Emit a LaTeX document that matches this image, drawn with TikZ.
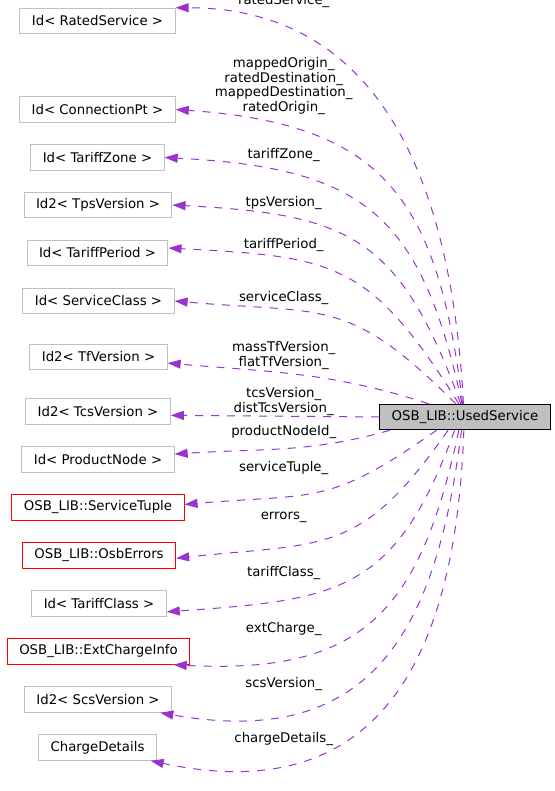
\documentclass[tikz,border=0pt]{standalone}
\usepackage{fontspec}
\setmainfont{DejaVu Sans}
\usetikzlibrary{arrows.meta}

\definecolor{boxgray}{HTML}{BFBFBF}
\definecolor{relpurple}{HTML}{9A32CD}
\newcommand{\dxfont}{\fontsize{13.3bp}{14.7bp}\selectfont}

\tikzset{
  cls/.style={draw=boxgray, fill=white, line width=1bp, inner xsep=12bp, inner ysep=0pt, minimum height=25.5bp, font=\dxfont},
  clsred/.style={cls, draw=red},
  clsmain/.style={cls, draw=black, fill=boxgray},
  rel/.style={draw=relpurple, line width=1bp, dash pattern=on 8bp off 8bp, looseness=1.3, -{Triangle[length=13bp,width=9bp]}},
  rellbl/.style={font=\dxfont, align=center, inner sep=0pt}
}

\begin{document}
\begin{tikzpicture}[x=1bp, y=1bp]
  \useasboundingbox (0,0) rectangle (555,-791);
  % member classes
  \node[cls] (rs) at (97.5,-21) {Id< RatedService >};
  \node[cls] (cp) at (97.5,-109.5) {Id< ConnectionPt >};
  \node[cls] (tz) at (97.5,-157.5) {Id< TariffZone >};
  \node[cls] (tps) at (98,-205) {Id2< TpsVersion >};
  \node[cls] (tp) at (97.5,-253) {Id< TariffPeriod >};
  \node[cls] (sc) at (98.5,-301) {Id< ServiceClass >};
  \node[cls] (tf) at (98.5,-357) {Id2< TfVersion >};
  \node[cls] (tcs) at (98,-411.5) {Id2< TcsVersion >};
  \node[cls] (pn) at (98,-459.5) {Id< ProductNode >};
  \node[clsred] (st) at (98,-507.5) {OSB\_LIB::ServiceTuple};
  \node[clsred] (oe) at (99,-555.5) {OSB\_LIB::OsbErrors};
  \node[cls] (tc) at (99,-603.5) {Id< TariffClass >};
  \node[clsred] (ec) at (98.5,-651.5) {OSB\_LIB::ExtChargeInfo};
  \node[cls] (scs) at (98,-699.5) {Id2< ScsVersion >};
  \node[cls] (cd) at (97.5,-747.5) {ChargeDetails};
  % the class itself
  \node[clsmain] (used) at (465,-417) {OSB\_LIB::UsedService};

  % relations
  \draw[rel] (used.97) to[out=93, in=0, looseness=1.1] (rs.north east);
  \draw[rel] (used.100) to[out=97, in=-4] (cp.east);
  \draw[rel] (used.103) to[out=102, in=-3] (tz.east);
  \draw[rel] (used.108) to[out=110, in=-3] (tps.east);
  \draw[rel] (used.115) to[out=122, in=-3] (tp.4);
  \draw[rel] (used.125) to[out=135, in=-5] (sc.east);
  \draw[rel] (used.160) to[out=162, in=-5, looseness=1] (tf.-5);
  \draw[rel] (used.west) -- (tcs.-3);
  \draw[rel] (used.190) to[out=196, in=4, looseness=1] (pn.4);
  \draw[rel] (used.205) to[out=215, in=5] (st.2);
  \draw[rel] (used.218) to[out=235, in=6] (oe.-2);
  \draw[rel] (used.232) to[out=250, in=4] (tc.-7);
  \draw[rel] (used.245) to[out=258, in=-3] (ec.-10);
  \draw[rel] (used.255) to[out=263, in=-10] (scs.-12);
  \draw[rel] (used.265) to[out=268, in=-12] (cd.-14);

  % member names
  \node[rellbl] (lrs) at (283.7,-1.5) {ratedService\_};
  \node[rellbl] (lcp) at (283.7,-86) {mappedOrigin\_\\ratedDestination\_\\mappedDestination\_\\ratedOrigin\_};
  \node[rellbl] (ltz) at (283.7,-155.5) {tariffZone\_};
  \node[rellbl] (ltps) at (283.7,-203.5) {tpsVersion\_};
  \node[rellbl] (ltp) at (283.7,-245.5) {tariffPeriod\_};
  \node[rellbl] (lsc) at (283.7,-298.5) {serviceClass\_};
  \node[rellbl] (ltf) at (283.7,-355.5) {massTfVersion\_\\flatTfVersion\_};
  \node[rellbl] (ltcs) at (283.7,-401.5) {tcsVersion\_\\distTcsVersion\_};
  \node[rellbl] (lpn) at (283.7,-432.5) {productNodeId\_};
  \node[rellbl] (lst) at (283.7,-468.5) {serviceTuple\_};
  \node[rellbl] (loe) at (283.7,-517.5) {errors\_};
  \node[rellbl] (ltc) at (283.7,-573.5) {tariffClass\_};
  \node[rellbl] (lec) at (283.7,-629.5) {extCharge\_};
  \node[rellbl] (lscs) at (283.7,-684.5) {scsVersion\_};
  \node[rellbl] (lcd) at (283.7,-739.5) {chargeDetails\_};
\end{tikzpicture}
\end{document}
